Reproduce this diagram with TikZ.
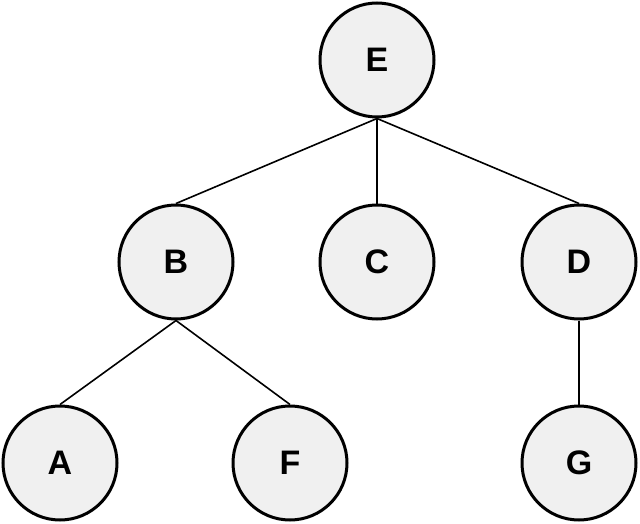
\documentclass[tikz,border=0pt]{standalone}
\usepackage{fontspec}
\setmainfont{Liberation Sans}
\begin{document}
\begin{tikzpicture}[x=1pt,y=-1pt,
  treenode/.style={circle,draw=black,line width=3pt,fill={rgb,255:red,240;green,240;blue,240},
    minimum size=114pt,inner sep=0pt,font=\fontsize{34}{34}\selectfont\bfseries},
  edge/.style={draw=black,line width=1.6pt}]
\useasboundingbox (0,0) rectangle (640,524);
\node[treenode] (E) at (377,60) {E};
\node[treenode] (B) at (176,262) {B};
\node[treenode] (C) at (377,262) {C};
\node[treenode] (D) at (579,262) {D};
\node[treenode] (A) at (60,463) {A};
\node[treenode] (F) at (290,463) {F};
\node[treenode] (G) at (579,463) {G};
\draw[edge] (E.south) -- (B.north);
\draw[edge] (E.south) -- (C.north);
\draw[edge] (E.south) -- (D.north);
\draw[edge] (B.south) -- (A.north);
\draw[edge] (B.south) -- (F.north);
\draw[edge] (D.south) -- (G.north);
\end{tikzpicture}
\end{document}
